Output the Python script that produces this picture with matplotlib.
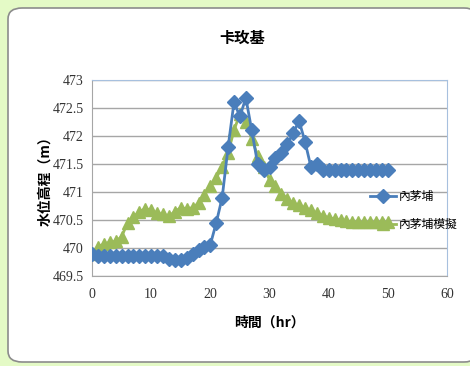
import matplotlib
matplotlib.use("Agg")
import matplotlib.pyplot as plt
from matplotlib.patches import FancyBboxPatch

plt.rcParams['font.family'] = ['Noto Sans CJK TC', 'DejaVu Sans']

hours = list(range(0, 51))
observed = [469.9, 469.85, 469.85, 469.85, 469.85, 469.85, 469.85, 469.85, 469.85, 469.85,
            469.85, 469.85, 469.85, 469.8, 469.78, 469.78, 469.82, 469.9, 469.97, 470.02,
            470.06, 470.45, 470.9, 471.8, 472.6, 472.35, 472.68, 472.1, 471.5, 471.4,
            471.45, 471.6, 471.7, 471.85, 472.05, 472.27, 471.9, 471.45, 471.5, 471.4,
            471.4, 471.4, 471.4, 471.4, 471.4, 471.4, 471.4, 471.4, 471.4, 471.4, 471.4]
simulated = [469.9, 470.02, 470.07, 470.1, 470.12, 470.2, 470.45, 470.55, 470.65, 470.7,
             470.68, 470.62, 470.6, 470.57, 470.65, 470.72, 470.7, 470.72, 470.8, 470.95,
             471.1, 471.25, 471.45, 471.7, 472.1, 472.4, 472.25, 471.95, 471.65, 471.45,
             471.22, 471.1, 470.97, 470.88, 470.8, 470.76, 470.72, 470.67, 470.62, 470.58,
             470.54, 470.52, 470.5, 470.48, 470.47, 470.46, 470.46, 470.46, 470.46, 470.46, 470.46]

series_names = ['內茅埔', '內茅埔模擬']
x_ticks = [0, 10, 20, 30, 40, 50, 60]
y_ticks = [469.5, 470, 470.5, 471, 471.5, 472, 472.5, 473]

fig = plt.figure(figsize=(4.7, 3.66), dpi=100)
fig.patch.set_facecolor('#e4fac6')

# white chart card behind everything
card = FancyBboxPatch((8 / 470, 4 / 366), 470 / 470, 354 / 366,
                      boxstyle="round,pad=0,rounding_size=0.03",
                      transform=fig.transFigure, facecolor='white',
                      edgecolor='#8c8c8c', linewidth=1.2, zorder=-1)
fig.patches.append(card)

ax = fig.add_axes([92 / 470, 90 / 366, 355 / 470, 196 / 366])
ax.set_facecolor('white')

ax.plot(hours, observed, color='#4a7ebb', marker='D', markersize=7,
        linewidth=2, label=series_names[0], zorder=3)
ax.plot(hours, simulated, color='#9bbb59', marker='^', markersize=8,
        linewidth=2, label=series_names[1], zorder=2)

ax.set_xlim(0, 60)
ax.set_ylim(469.5, 473)
ax.set_xticks(x_ticks)
ax.set_yticks(y_ticks)
ax.set_xticklabels([str(v) for v in x_ticks], family='Liberation Serif', fontsize=10, color='#333333')
ax.set_yticklabels(['469.5', '470', '470.5', '471', '471.5', '472', '472.5', '473'],
                   family='Liberation Serif', fontsize=10, color='#333333')
ax.tick_params(axis='x', length=0, pad=9)
ax.tick_params(axis='y', length=0, pad=6)
ax.yaxis.grid(True, color='#a6a6a6', linewidth=1)
ax.set_axisbelow(True)

for side in ['left', 'bottom']:
    ax.spines[side].set_color('#a6a6a6')
for side in ['top', 'right']:
    ax.spines[side].set_color('#a7c0de')

ax.set_xlabel('時間（hr）', fontsize=10, fontweight='bold', labelpad=10)
ax.set_ylabel('水位高程（m）', fontsize=10, fontweight='bold', labelpad=0)

fig.text(242 / 470, 1 - 38 / 366, '卡玫基', ha='center', va='center',
         fontsize=11, fontweight='bold')

ax.legend(loc='center left', bbox_to_anchor=(0.77, 0.335), frameon=False,
          fontsize=8.5, handlelength=2.2, handletextpad=0.2, labelspacing=1.3,
          borderaxespad=0)

fig.savefig('out.png', dpi=100, facecolor=fig.get_facecolor())
